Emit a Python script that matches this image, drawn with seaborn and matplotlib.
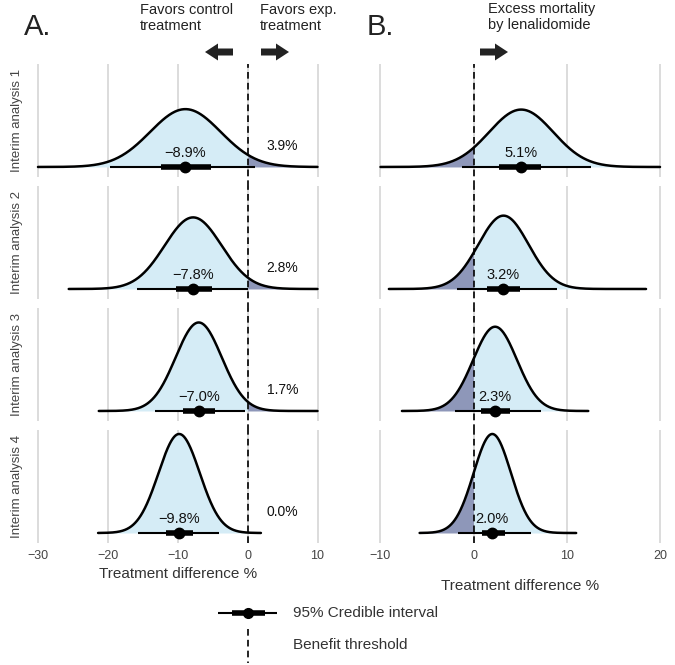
import numpy as np
import pandas as pd
import matplotlib.pyplot as plt
from matplotlib.patches import FancyArrow
import seaborn as sns

analyses = ["Interim analysis 1", "Interim analysis 2", "Interim analysis 3", "Interim analysis 4"]

# A: treatment difference, posterior mean / sd / credible intervals per analysis
a_mean = [-8.9, -7.8, -7.0, -9.8]
a_sd = [5.05, 4.08, 3.30, 2.95]
a_ci95 = [(-19.7, 1.1), (-15.9, 0.1), (-13.3, -0.4), (-15.7, -4.1)]
a_ci50 = [(-12.4, -5.3), (-10.3, -5.1), (-9.3, -4.7), (-11.7, -7.8)]
a_range = [(-30, 10), (-25.6, 10), (-21.3, 10), (-21.4, 1.9)]
a_tail = ["3.9%", "2.8%", "1.7%", "0.0%"]
a_ticks = [-30, -20, -10, 0, 10]

# B: excess mortality by lenalidomide
b_mean = [5.1, 3.2, 2.3, 2.0]
b_sd = [3.45, 2.7, 2.35, 2.0]
b_ci95 = [(-1.2, 12.6), (-1.8, 8.9), (-2.0, 7.2), (-1.7, 6.1)]
b_ci50 = [(2.7, 7.2), (1.4, 5.0), (0.75, 3.9), (0.9, 3.4)]
b_range = [(-10, 20), (-9.1, 18.5), (-7.7, 12.3), (-5.8, 11)]
b_ticks = [-10, 0, 10, 20]

LIGHT = "#d5ecf6"
DARK = "#8e97b9"
GRID = "#d9d9d9"

sns.set_theme(style="whitegrid")
plt.rcParams["font.family"] = ["Liberation Sans", "DejaVu Sans"]

fig, axes = plt.subplots(4, 2, figsize=(6.75, 6.65), dpi=100)
fig.subplots_adjust(left=31 / 675, right=667 / 675, top=1 - 64 / 665,
                    bottom=1 - 543 / 665, hspace=0.08, wspace=0.167)


def fmt(v):
    return f"{v:.1f}%".replace("-", "\u2212")


def draw_column(col, means, sds, ci95, ci50, ranges, tail_right, ticks, xlim, tails=None, labelpad=4):
    dens = []
    for m, s, (lo, hi) in zip(means, sds, ranges):
        x = np.linspace(lo, hi, 600)
        y = np.exp(-0.5 * ((x - m) / s) ** 2) / (s * np.sqrt(2 * np.pi))
        dens.append(pd.DataFrame({"x": x, "y": y}))
    peak = max(d["y"].max() for d in dens)

    for i in range(4):
        ax = axes[i, col]
        d = dens[i]
        tail = (d["x"] >= 0) if tail_right else (d["x"] <= 0)
        ax.fill_between(d["x"], 0, d["y"], where=~tail, color=LIGHT, lw=0, interpolate=True, zorder=1)
        ax.fill_between(d["x"], 0, d["y"], where=tail, color=DARK, lw=0, interpolate=True, zorder=1)
        sns.lineplot(data=d, x="x", y="y", ax=ax, color="black", lw=1.8, zorder=3)

        ax.plot(ci95[i], [0, 0], color="black", lw=1.5, solid_capstyle="butt", zorder=4)
        ax.plot(ci50[i], [0, 0], color="black", lw=4, solid_capstyle="butt", zorder=4)
        ax.plot([means[i]], [0], "o", color="black", ms=7.5, zorder=5)

        tr = ax.get_xaxis_transform()
        ax.text(means[i], 0.175, fmt(means[i]), transform=tr, ha="center",
                va="baseline", fontsize=10.5, color="#111")
        if tails is not None:
            ax.text(5, 0.24, tails[i], transform=tr, ha="center", va="baseline",
                    fontsize=10, color="#111")

        ax.axvline(0, ymin=0 if i == 3 else -0.09, ymax=1, color="black", ls="--",
                   lw=1.2, dashes=(4, 2.5), clip_on=False, zorder=6)

        ax.set_xlim(xlim)
        ax.set_ylim(-10 / 99 * peak, 1.04 * peak)
        ax.set_xticks(ticks)
        ax.set_yticks([])
        ax.grid(axis="x", color=GRID, lw=1.3)
        ax.grid(axis="y", visible=False)
        for sp in ax.spines.values():
            sp.set_visible(False)
        ax.tick_params(axis="x", length=0, pad=5, labelsize=9, labelcolor="#444")
        ax.set_xlabel("")
        ax.set_ylabel("")
        if i < 3:
            ax.tick_params(axis="x", labelbottom=False)
        else:
            ax.set_xticklabels([str(t).replace("-", "\u2212") for t in ticks])
            ax.set_xlabel("Treatment difference %", fontsize=11, color="#333", labelpad=labelpad)
        if col == 0:
            ax.set_ylabel(analyses[i], fontsize=9.5, color="#444")
            ax.yaxis.set_label_coords(-0.028, 0.5)


draw_column(0, a_mean, a_sd, a_ci95, a_ci50, a_range, True, a_ticks, (-31, 11), tails=a_tail, labelpad=4)
draw_column(1, b_mean, b_sd, b_ci95, b_ci50, b_range, False, b_ticks, (-10.75, 20.75), labelpad=12)

# panel letters and headers
fig.text(24 / 675, 1 - 35 / 665, "A.", fontsize=21, color="#222", va="baseline")
fig.text(367 / 675, 1 - 35 / 665, "B.", fontsize=21, color="#222", va="baseline")
fig.text(140 / 675, 1 - 3 / 665, "Favors control\ntreatment", fontsize=10.5, color="#222",
         va="top", linespacing=1.15)
fig.text(260 / 675, 1 - 3 / 665, "Favors exp.\ntreatment", fontsize=10.5, color="#222",
         va="top", linespacing=1.15)
fig.text(488 / 675, 1 - 2 / 665, "Excess mortality\nby lenalidomide", fontsize=10.5, color="#222",
         va="top", linespacing=1.15)

# direction arrows (pixel positions -> inches)
for x0, x1 in [(233, 205), (261, 289), (480, 508)]:
    y = (665 - 52) / 100
    fig.add_artist(FancyArrow(x0 / 100, y, (x1 - x0) / 100, 0, width=0.07,
                              head_width=0.17, head_length=0.13, length_includes_head=True,
                              color="#222", lw=0, transform=fig.dpi_scale_trans))

# legend at the bottom
lg = fig.add_axes([0, 0, 1, 70 / 665])
lg.set_xlim(0, 675)
lg.set_ylim(665, 595)
lg.axis("off")
lg.plot([218, 277], [613, 613], color="black", lw=1.5, solid_capstyle="butt")
lg.plot([232, 265], [613, 613], color="black", lw=4, solid_capstyle="butt")
lg.plot([248], [613], "o", color="black", ms=7)
lg.plot([248, 248], [629, 663], color="black", lw=1.2, ls="--", dashes=(4, 2.5))
lg.text(293, 613, "95% Credible interval", fontsize=11, color="#333", va="center")
lg.text(293, 645, "Benefit threshold", fontsize=11, color="#333", va="center")

fig.savefig("out.png", dpi=100)
